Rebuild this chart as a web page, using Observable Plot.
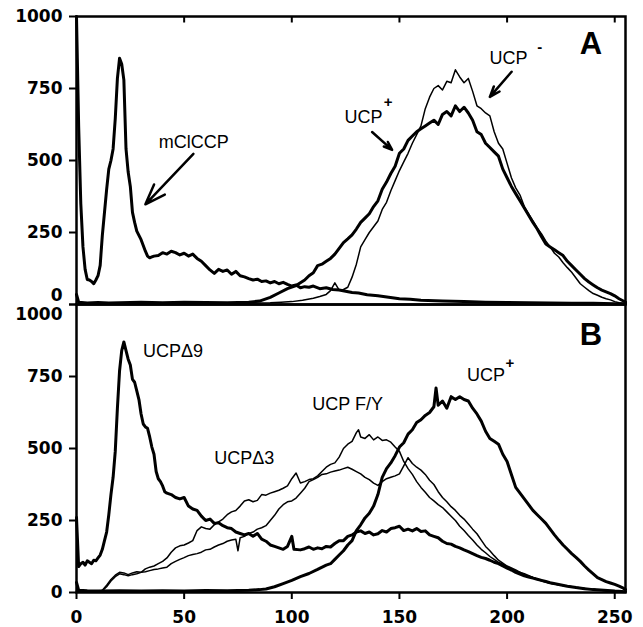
<!DOCTYPE html>
<html><head><meta charset="utf-8">
<script src="https://cdn.jsdelivr.net/npm/d3@7"></script>
<script src="https://cdn.jsdelivr.net/npm/@observablehq/plot@0.6"></script>
<style>body{margin:0;background:#fff}</style>
</head><body><div id="chart"></div>
<script>
const panels = ["A", "B"];
const xTicks = [0, 50, 100, 150, 200, 250];
const yTicks = [0, 250, 500, 750, 1000];

// Panel A
const mclccpA = [[0,1000],[1,620],[2,350],[3,200],[4,122],[5,87],[6,85],[7,80],[8,72],[9,85],[10,100],[11,136],[12,240],[13,320],[14,400],[15,470],[16,500],[17,540],[18,645],[19,785],[20,855],[21,835],[22,780],[23,540],[24,460],[25,410],[26,320],[27,285],[28,255],[29,240],[30,225],[31,205],[32,185],[33,168],[34,162],[35,165],[36,168],[38,170],[40,180],[42,175],[44,185],[46,180],[48,172],[50,178],[52,168],[54,175],[56,160],[58,150],[60,135],[62,120],[64,108],[66,122],[68,115],[70,120],[72,105],[74,115],[76,100],[78,96],[80,90],[82,85],[84,88],[86,80],[88,82],[90,75],[92,80],[94,72],[96,77],[98,70],[100,64],[102,68],[104,58],[106,62],[108,60],[110,64],[113,55],[116,58],[119,52],[122,50],[125,46],[128,42],[131,40],[135,34],[140,30],[145,25],[150,20],[155,18],[160,15],[170,12],[180,10],[190,8],[200,7],[210,6],[220,5],[230,4],[240,4],[250,3],[255,3]];
const ucpPlusA = [[0,35],[1,8],[5,5],[10,7],[15,5],[20,6],[30,8],[40,6],[50,8],[60,7],[70,6],[80,8],[85,12],[90,25],[94,40],[98,55],[102,66],[106,85],[108,100],[110,110],[112,135],[114,140],[116,150],[118,160],[120,175],[122,195],[124,215],[126,228],[128,242],[130,262],[132,285],[134,300],[136,315],[138,340],[140,360],[142,400],[144,425],[146,455],[148,480],[150,525],[152,540],[154,570],[156,585],[158,600],[160,610],[162,620],[164,630],[166,640],[168,625],[170,660],[172,670],[174,655],[176,690],[178,670],[180,685],[182,665],[184,640],[186,600],[188,590],[190,560],[192,545],[194,530],[196,515],[198,470],[200,440],[202,410],[204,385],[206,360],[208,335],[210,310],[212,285],[214,262],[216,235],[218,210],[220,200],[222,190],[224,180],[226,170],[228,150],[230,135],[232,120],[234,105],[236,90],[238,78],[240,68],[242,58],[244,50],[246,44],[248,38],[250,30],[252,20],[254,12],[255,8]];
const ucpMinusA = [[0,30],[1,5],[5,4],[10,3],[20,4],[30,3],[40,5],[50,4],[60,5],[70,4],[80,5],[90,6],[95,8],[100,10],[105,15],[110,22],[113,28],[116,35],[118,48],[120,75],[122,50],[124,52],[126,60],[128,95],[130,140],[132,200],[134,225],[136,250],[138,270],[140,290],[142,330],[144,355],[146,395],[148,430],[150,465],[152,495],[154,525],[156,560],[158,590],[160,620],[162,680],[164,720],[166,750],[168,760],[170,745],[172,775],[174,770],[176,815],[178,790],[180,770],[182,785],[184,740],[186,690],[188,680],[190,665],[192,655],[194,600],[196,560],[198,540],[200,490],[202,440],[204,405],[206,380],[208,340],[210,315],[212,290],[214,265],[216,245],[218,220],[220,200],[222,178],[224,165],[226,145],[228,128],[230,112],[232,92],[234,72],[236,60],[238,48],[240,38],[242,32],[244,25],[246,20],[248,16],[250,10],[252,6],[255,3]];

// Panel B
const delta9B = [[0,260],[1,90],[2,100],[3,105],[4,95],[5,110],[6,105],[7,100],[8,112],[9,110],[10,120],[11,130],[12,150],[13,180],[14,210],[15,270],[16,340],[17,400],[18,490],[19,640],[20,770],[21,840],[22,870],[23,840],[24,810],[25,790],[26,740],[27,730],[28,700],[29,670],[30,620],[31,585],[32,575],[33,570],[34,540],[35,505],[36,480],[37,420],[38,395],[39,385],[40,370],[41,350],[42,345],[44,340],[46,330],[48,325],[50,330],[52,300],[54,290],[56,285],[58,265],[60,250],[62,255],[64,240],[66,242],[68,232],[70,225],[72,222],[74,210],[76,205],[78,200],[80,205],[82,195],[84,205],[86,185],[88,178],[90,165],[92,160],[94,155],[96,150],[98,160],[100,195],[101,150],[104,148],[106,152],[108,158],[110,150],[112,155],[114,152],[116,160],[118,158],[120,170],[122,180],[124,180],[126,195],[128,200],[130,210],[132,214],[134,205],[136,210],[138,200],[140,204],[142,215],[144,210],[146,222],[148,225],[150,230],[152,215],[154,220],[156,214],[158,222],[160,212],[162,214],[164,200],[166,195],[168,190],[170,178],[172,170],[174,168],[176,160],[178,155],[180,148],[182,142],[184,135],[186,128],[188,122],[190,118],[192,112],[194,105],[196,100],[198,92],[200,85],[202,78],[204,70],[206,64],[208,58],[210,54],[212,50],[214,46],[216,42],[218,38],[220,34],[224,28],[228,22],[232,17],[236,13],[240,10],[245,8],[250,5],[255,3]];
const ucpPlusB = [[0,35],[1,8],[5,6],[10,5],[20,6],[30,5],[40,6],[50,5],[60,7],[70,6],[80,8],[85,10],[88,12],[92,20],[96,31],[100,42],[104,55],[108,66],[112,80],[116,95],[118,100],[120,115],[122,130],[124,145],[126,165],[128,180],[130,215],[132,235],[134,259],[136,275],[138,300],[140,340],[141,370],[142,400],[144,430],[146,450],[148,475],[150,505],[152,520],[154,550],[156,565],[158,590],[160,600],[162,615],[164,625],[166,645],[167,710],[168,650],[170,665],[172,640],[174,680],[176,670],[178,680],[180,670],[182,665],[184,640],[186,620],[188,595],[190,560],[192,535],[194,525],[196,515],[198,480],[200,455],[202,410],[204,365],[206,345],[208,325],[210,305],[212,285],[214,270],[216,255],[218,240],[220,220],[222,200],[224,182],[226,165],[228,150],[230,135],[232,122],[234,108],[236,92],[238,78],[240,65],[242,52],[244,45],[246,38],[248,33],[250,28],[252,22],[254,15],[255,10]];
const fyB = [[0,5],[2,2],[5,1],[8,2],[10,3],[12,8],[14,25],[16,45],[18,60],[20,70],[22,68],[24,62],[26,68],[28,72],[30,70],[32,82],[34,88],[36,92],[38,100],[40,108],[42,120],[44,140],[46,155],[48,162],[50,165],[52,172],[54,180],[56,215],[58,228],[60,222],[62,220],[64,235],[66,245],[68,255],[70,270],[72,280],[74,285],[76,300],[78,318],[80,322],[82,315],[84,320],[86,340],[88,338],[90,345],[92,350],[94,355],[96,362],[98,370],[100,395],[102,415],[104,380],[106,385],[108,392],[110,395],[112,405],[114,420],[116,435],[118,445],[120,450],[122,470],[124,500],[126,515],[128,525],[130,555],[131,565],[132,540],[134,535],[136,548],[138,530],[140,540],[142,528],[144,530],[146,522],[148,505],[150,490],[152,455],[154,430],[156,410],[158,385],[160,365],[162,348],[164,330],[166,318],[168,305],[170,295],[172,280],[174,265],[176,250],[178,230],[180,215],[182,198],[184,182],[186,165],[188,150],[190,138],[192,125],[194,115],[196,105],[198,98],[200,90],[204,75],[208,65],[212,52],[216,42],[220,32],[226,24],[232,18],[238,12],[245,7],[250,5],[255,2]];
const delta3B = [[0,5],[2,2],[5,1],[8,2],[10,3],[12,6],[14,20],[16,40],[18,55],[20,65],[22,62],[24,58],[26,62],[28,65],[30,70],[32,72],[34,76],[36,80],[38,82],[40,85],[42,88],[44,100],[46,108],[48,115],[50,121],[52,128],[54,132],[56,135],[58,140],[60,148],[62,150],[64,158],[66,165],[68,170],[70,178],[72,182],[74,185],[75,145],[76,190],[78,195],[80,205],[82,210],[84,220],[86,225],[88,232],[90,250],[92,268],[94,290],[96,305],[98,315],[100,318],[102,328],[104,345],[106,362],[108,385],[110,392],[112,400],[114,410],[116,412],[118,418],[120,422],[122,425],[124,430],[126,435],[128,428],[130,420],[132,412],[134,400],[136,392],[138,380],[140,372],[142,385],[144,395],[146,400],[148,405],[150,412],[152,440],[154,468],[156,448],[158,435],[160,425],[162,410],[164,390],[166,375],[168,350],[170,330],[172,315],[174,298],[176,285],[178,268],[180,255],[182,238],[184,220],[186,204],[188,182],[190,160],[192,145],[194,128],[196,112],[198,102],[200,92],[204,78],[208,62],[212,52],[216,40],[220,32],[226,24],[232,17],[238,12],[245,7],[250,5],[255,2]];

// Annotations
const labelPanel = ["A", "A", "A", "B", "B", "B", "B"];
const labelText  = ["mClCCP", "UCP", "UCP", "UCPΔ9", "UCPΔ3", "UCP F/Y", "UCP"];
const labelX     = [54.5, 133.3, 200.6, 44.8, 77.9, 125.9, 190.2];
const labelY     = [564, 651, 855, 836, 465, 655, 756];
const supPanel = ["A", "A", "B"];
const supText  = ["+", "-", "+"];
const supX     = [144.7, 215.2, 201.3];
const supY     = [704, 895, 796];
const panelLetterX = [238.9, 238.9];
const panelLetterY = [904, 894];
const arrowPanel = ["A", "A", "A"];
const arrowX1 = [54.3, 137.3, 202.1];
const arrowY1 = [523, 599, 808];
const arrowX2 = [32, 146.6, 192];
const arrowY2 = [348, 537, 721];

const toRows = (panel, name, pts) => pts.map(([x, y]) => ({panel, name, x, y}));
const thick = [
  ...toRows("A", "mClCCP", mclccpA),
  ...toRows("A", "UCP+", ucpPlusA),
  ...toRows("B", "UCPd9", delta9B),
  ...toRows("B", "UCP+", ucpPlusB)
];
const thin = [
  ...toRows("A", "UCP-", ucpMinusA),
  ...toRows("B", "UCPFY", fyB),
  ...toRows("B", "UCPd3", delta3B)
];
const labels = labelText.map((t, i) => ({panel: labelPanel[i], text: t, x: labelX[i], y: labelY[i]}));
const sups = supText.map((t, i) => ({panel: supPanel[i], text: t, x: supX[i], y: supY[i]}));
const letters = panels.map((p, i) => ({panel: p, text: p, x: panelLetterX[i], y: panelLetterY[i]}));
const arrows = arrowPanel.map((p, i) => ({panel: p, x1: arrowX1[i], y1: arrowY1[i], x2: arrowX2[i], y2: arrowY2[i]}));
const topTicks = xTicks.slice(1).map(x => ({panel: "A", x}));
const yLabels = [];
panels.forEach(p => yTicks.forEach(v => {
  let off = 0;
  if (p === "A" && v === 0) off = -1;
  if (p === "B" && v === 1000) off = 1;
  yLabels.push({panel: p, v, off});
}));

const yLabelOpts = {y: "v", fy: "panel", text: d => String(d.v), frameAnchor: "left", dx: -14,
  textAnchor: "end", fontSize: 17, fontWeight: "bold", fontFamily: "DejaVu Sans", fill: "black"};

const chart = Plot.plot({
  width: 643, height: 627,
  marginLeft: 76, marginRight: 18, marginTop: 15, marginBottom: 35,
  style: {fontFamily: "DejaVu Sans", background: "white", color: "black", overflow: "visible"},
  x: {domain: [0, 255]},
  y: {domain: [0, 1000]},
  fy: {domain: panels, padding: 0, axis: null},
  marks: [
    Plot.line(thin, {x: "x", y: "y", z: "name", fy: "panel", stroke: "black", strokeWidth: 1.5}),
    Plot.line(thick, {x: "x", y: "y", z: "name", fy: "panel", stroke: "black", strokeWidth: 3}),
    Plot.frame({stroke: "black", strokeWidth: 2.5}),
    Plot.tickX(topTicks, {x: "x", fy: "panel", insetBottom: 281.5, stroke: "black", strokeWidth: 2}),
    Plot.axisX(xTicks, {anchor: "bottom", tickSize: 7, tickPadding: 11, strokeWidth: 2,
      fontSize: 17, fontWeight: "bold", fontFamily: "DejaVu Sans", tickFormat: d => String(d)}),
    Plot.axisY(yTicks, {anchor: "left", tickSize: 7, strokeWidth: 2, fill: "none"}),
    Plot.text(yLabels, {...yLabelOpts, filter: d => d.off === 0}),
    Plot.text(yLabels, {...yLabelOpts, filter: d => d.off < 0, dy: -9}),
    Plot.text(yLabels, {...yLabelOpts, filter: d => d.off > 0, dy: 10}),
    Plot.arrow(arrows, {x1: "x1", y1: "y1", x2: "x2", y2: "y2", fy: "panel", stroke: "black",
      strokeWidth: 2.5, headLength: 13, headAngle: 40}),
    Plot.text(labels, {x: "x", y: "y", fy: "panel", text: "text", fontSize: 18,
      fontFamily: "Liberation Sans", fontWeight: "normal", fill: "black"}),
    Plot.text(sups, {x: "x", y: "y", fy: "panel", text: "text", fontSize: 15,
      fontFamily: "Liberation Sans", fontWeight: "bold", fill: "black"}),
    Plot.text(letters, {x: "x", y: "y", fy: "panel", text: "text", fontSize: 31,
      fontFamily: "Liberation Sans", fontWeight: "bold", fill: "black"})
  ]
});
document.getElementById("chart").appendChild(chart);
</script>
</body></html>
